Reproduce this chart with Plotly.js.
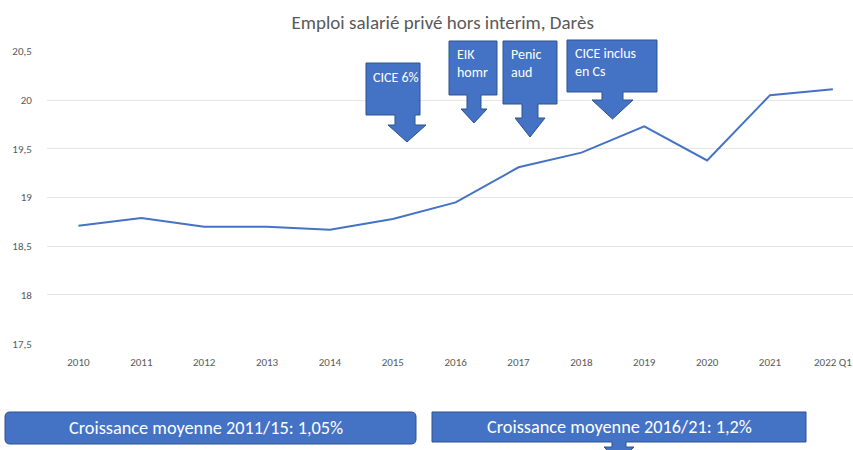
<!DOCTYPE html>
<html>
<head>
<meta charset="utf-8">
<script src="https://cdn.plot.ly/plotly-3.0.1.min.js"></script>
<style>html,body{margin:0;padding:0;background:#fff;}#chart{width:853px;height:450px;}</style>
</head>
<body>
<div id="chart"></div>
<script>
// Data
const categories = ["2010","2011","2012","2013","2014","2015","2016","2017","2018","2019","2020","2021","2022 Q1"];
const emploi = [18.71, 18.79, 18.70, 18.70, 18.67, 18.78, 18.95, 19.31, 19.46, 19.73, 19.38, 20.05, 20.11];
const yTickVals = [17.5, 18, 18.5, 19, 19.5, 20, 20.5];
const yTickText = ["17,5", "18", "18,5", "19", "19,5", "20", "20,5"];
const calloutTexts = ["CICE 6%", "EIK<br>homr", "Penic<br>aud", "CICE inclus<br>en Cs"];
const bottomTexts = ["Croissance moyenne 2011/15: 1,05%", "Croissance moyenne 2016/21: 1,2%"];

// Layout geometry (pixels)
const L = 47, T = 51, W = 853 - 47, H = 293, B = T + H;
const px = x => (x - L) / W;
const py = y => (B - y) / H;
function path(pts) {
  return "M " + pts.map(p => px(p[0]).toFixed(5) + "," + py(p[1]).toFixed(5)).join(" L ") + " Z";
}
// callout: box [x0,x1,y0,y1], stem [s0,s1], neck y, head [h0,h1], tip y
function callout(b, s, neck, h, tip) {
  const [x0, x1, y0, y1] = b;
  const tx = (h[0] + h[1]) / 2;
  return path([[x0,y0],[x1,y0],[x1,y1],[s[1],y1],[s[1],neck],[h[1],neck],[tx,tip],[h[0],neck],[s[0],neck],[s[0],y1],[x0,y1]]);
}
const blue = "#4472C4", border = "#2F528F";
const shapeStyle = {type: "path", xref: "paper", yref: "paper", fillcolor: blue, line: {color: border, width: 1}, layer: "above"};
const callouts = [
  {b: [366, 420, 63, 115], s: [395, 415], neck: 125, h: [388, 426], tip: 142, tx: 371, ty: 67},
  {b: [449, 497, 41, 95], s: [467, 481], neck: 109, h: [461, 487], tip: 123, tx: 455, ty: 44},
  {b: [503, 557, 41, 104], s: [522, 538], neck: 118, h: [515, 545], tip: 137, tx: 509, ty: 44},
  {b: [567, 657, 40, 92], s: [602, 623], neck: 100, h: [592, 633], tip: 119, tx: 573, ty: 43}
];
const shapes = callouts.map(c => Object.assign({}, shapeStyle, {path: callout(c.b, c.s, c.neck, c.h, c.tip)}));
// Bottom boxes
function rounded(x0, y0, x1, y1, r) {
  const X0 = px(x0), X1 = px(x1), Y0 = py(y0), Y1 = py(y1);
  const rx = r / W, ry = r / H;
  return `M ${X0+rx},${Y0} L ${X1-rx},${Y0} Q ${X1},${Y0} ${X1},${Y0-ry} L ${X1},${Y1+ry} Q ${X1},${Y1} ${X1-rx},${Y1} L ${X0+rx},${Y1} Q ${X0},${Y1} ${X0},${Y1+ry} L ${X0},${Y0-ry} Q ${X0},${Y0} ${X0+rx},${Y0} Z`;
}
shapes.push(Object.assign({}, shapeStyle, {path: rounded(5, 412, 416, 444, 5)}));
shapes.push(Object.assign({}, shapeStyle, {path: path([[432,412],[806,412],[806,442],[626,442],[626,447],[634,447],[619,462],[604,447],[612,447],[612,442],[432,442]])}));

const font = "Calibri, Carlito, 'Liberation Sans Narrow', 'Liberation Sans', sans-serif";
const annotations = callouts.map((c, i) => ({
  xref: "paper", yref: "paper", x: px(c.tx), y: py(c.ty), xanchor: "left", yanchor: "top",
  text: calloutTexts[i], showarrow: false, align: "left",
  font: {family: font, size: 14, color: "#ffffff"}
}));
annotations.push({xref: "paper", yref: "paper", x: px(206), y: py(428), xanchor: "center", yanchor: "middle",
  text: bottomTexts[0], showarrow: false, font: {family: font, size: 18.3, color: "#ffffff"}});
annotations.push({xref: "paper", yref: "paper", x: px(619), y: py(427), xanchor: "center", yanchor: "middle",
  text: bottomTexts[1], showarrow: false, font: {family: font, size: 18.3, color: "#ffffff"}});

const trace = {
  x: categories, y: emploi, type: "scatter", mode: "lines",
  line: {color: blue, width: 2}, hoverinfo: "skip"
};
const layout = {
  width: 853, height: 450,
  margin: {l: L, r: 0, t: T, b: 450 - B},
  paper_bgcolor: "#ffffff", plot_bgcolor: "#ffffff",
  showlegend: false,
  title: {text: "Emploi salarié privé hors interim, Darès", x: 0.519, xanchor: "center", y: 0.951, yanchor: "middle",
    font: {family: font, size: 19, color: "#595959"}},
  xaxis: {type: "category", range: [-0.5, 12.32], showgrid: false, zeroline: false, showline: false,
    ticks: "outside", ticklen: 8, tickcolor: "rgba(0,0,0,0)",
    tickfont: {family: font, size: 11, color: "#595959"}, fixedrange: true},
  yaxis: {range: [17.497, 20.503], tickvals: yTickVals, ticktext: yTickText, showgrid: true,
    gridcolor: "#e6e6e6", gridwidth: 1, zeroline: false, showline: false,
    ticks: "outside", ticklen: 12, tickcolor: "rgba(0,0,0,0)",
    tickfont: {family: font, size: 11, color: "#595959"}, fixedrange: true},
  shapes: shapes,
  annotations: annotations
};
Plotly.newPlot("chart", [trace], layout, {staticPlot: true, displayModeBar: false});
</script>
</body>
</html>
